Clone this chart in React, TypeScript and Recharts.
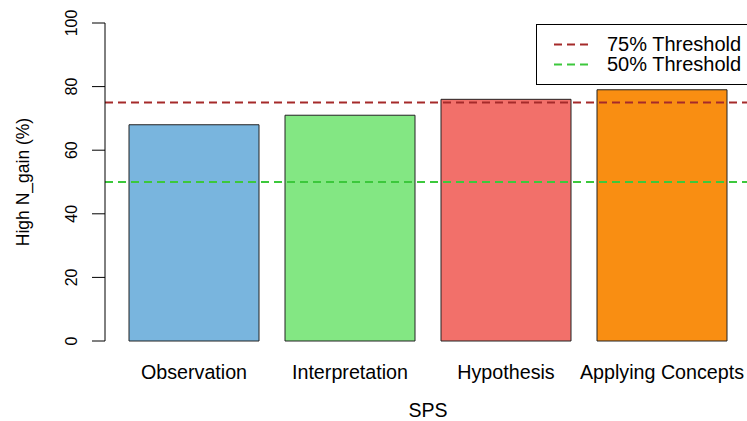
import React from "react";
import {
  Bar,
  BarChart,
  Cell,
  ReferenceLine,
  XAxis,
  YAxis,
} from "recharts";

const categories = ["Observation", "Interpretation", "Hypothesis", "Applying Concepts"];
const gains = [68, 71, 76, 79];
const yTicks = [0, 20, 40, 60, 80, 100];
const thresholdValues = [75, 50];
const thresholdLabels = ["75% Threshold", "50% Threshold"];

const barColors = ["#79b5de", "#83e783", "#f2706a", "#f98e12"];
const thresholdColors = ["#a52a2a", "#3cc83c"];
const FONT = "'Liberation Sans', Arial, sans-serif";

const data = categories.map((name, i) => ({ name, value: gains[i] }));

function YTick(props: any) {
  const { x, y, payload } = props;
  const bx = x - 13;
  return (
    <text
      x={bx}
      y={y}
      transform={`rotate(-90, ${bx}, ${y})`}
      textAnchor="middle"
      fontSize={16}
      fontFamily={FONT}
      fill="#000"
    >
      {payload.value}
    </text>
  );
}

function XTick(props: any) {
  const { x, payload } = props;
  return (
    <text x={x} y={379} textAnchor="middle" fontSize={19.7} fontFamily={FONT} fill="#000">
      {payload.value}
    </text>
  );
}

function Legend() {
  return (
    <div
      style={{
        position: "absolute",
        left: 536,
        top: 24,
        width: 230,
        height: 59,
        border: "1px solid #000",
        background: "#fff",
        fontFamily: FONT,
        fontSize: 20,
      }}
    >
      {thresholdLabels.map((label, i) => (
        <div
          key={label}
          style={{ position: "absolute", left: 0, top: 9 + i * 20, height: 20, display: "flex", alignItems: "center" }}
        >
          <svg width={60} height={20} style={{ display: "block" }}>
            <line
              x1={17}
              x2={53}
              y1={10.5}
              y2={10.5}
              stroke={thresholdColors[i]}
              strokeWidth={2}
              strokeDasharray="8 5"
            />
          </svg>
          <span style={{ marginLeft: 10, lineHeight: "20px" }}>{label}</span>
        </div>
      ))}
    </div>
  );
}

export default function App() {
  return (
    <div style={{ position: "absolute", left: 0, top: 0, width: 747, height: 421, overflow: "hidden", background: "#fff" }}>
      <BarChart width={751} height={421} data={data} margin={{ top: 23, right: 0, bottom: 0, left: 0 }}>
        <XAxis
          dataKey="name"
          height={80}
          padding={{ left: 11, right: 11 }}
          axisLine={false}
          tickLine={false}
          tick={<XTick />}
          interval={0}
          label={{
            content: (p: any) => {
              const vb = p.viewBox || { x: 105, y: 341, width: 646 };
              return (
                <text
                  x={vb.x + vb.width / 2}
                  y={vb.y + 76}
                  textAnchor="middle"
                  fontSize={19.5}
                  fontFamily={FONT}
                  fill="#000"
                >
                  SPS
                </text>
              );
            },
          }}
        />
        <YAxis
          width={105}
          domain={[0, 100]}
          ticks={yTicks}
          tickSize={13}
          axisLine={{ stroke: "#000", strokeWidth: 1 }}
          tickLine={{ stroke: "#000", strokeWidth: 1 }}
          tick={<YTick />}
          label={{
            content: (p: any) => {
              const vb = p.viewBox || { x: 0, y: 23, height: 318 };
              const cy = vb.y + vb.height / 2;
              return (
                <text
                  x={29}
                  y={cy}
                  transform={`rotate(-90, 29, ${cy})`}
                  textAnchor="middle"
                  fontSize={17.5}
                  fontFamily={FONT}
                  fill="#000"
                >
                  High N_gain (%)
                </text>
              );
            },
          }}
        />
        <Bar dataKey="value" barSize={130} stroke="#222" strokeWidth={1} isAnimationActive={false}>
          {data.map((d, i) => (
            <Cell key={d.name} fill={barColors[i]} />
          ))}
        </Bar>
        {thresholdValues.map((v, i) => (
          <ReferenceLine
            key={v}
            y={v}
            stroke={thresholdColors[i]}
            strokeWidth={2}
            strokeDasharray="8 5"
          />
        ))}
      </BarChart>
      <Legend />
    </div>
  );
}
